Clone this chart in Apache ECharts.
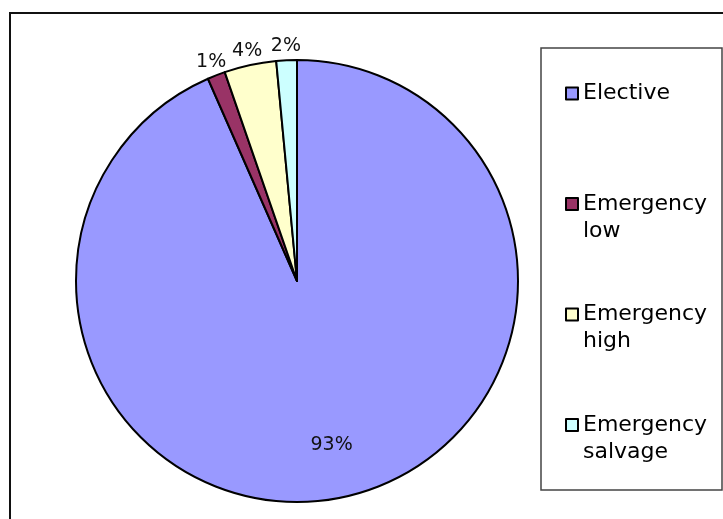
<!DOCTYPE html>
<html>
<head>
<meta charset="utf-8">
<style>
  html, body { margin: 0; padding: 0; background: #ffffff; }
  #chart { width: 723px; height: 519px; }
</style>
<script src="https://cdn.jsdelivr.net/npm/echarts@6/dist/echarts.min.js"></script>
</head>
<body>
<div id="chart"></div>
<script>
// Admission priority shares (percent of cases)
const categories = ['Elective', 'Emergency\nlow', 'Emergency\nhigh', 'Emergency\nsalvage'];
const shares = [93.4, 1.3, 3.8, 1.5];
const sliceColors = ['#9999FF', '#993366', '#FFFFCC', '#CCFFFF'];

const FONT = 'DejaVu Sans';
const CENTER = [297, 281];
const R = 221;
const BLANK = '\u00a0';

const sliceData = categories.map((name, i) => ({
  name: name,
  value: shares[i],
  itemStyle: { color: sliceColors[i] }
}));

const pctLabel = p => Math.round(p.percent) + '%';

// Transparent ring used only to place percentage labels along each slice's mid-angle
function labelRing(radius, showIdx) {
  return {
    type: 'pie',
    center: CENTER,
    radius: radius,
    startAngle: 90,
    clockwise: true,
    silent: true,
    avoidLabelOverlap: false,
    animation: false,
    itemStyle: { color: 'rgba(0,0,0,0)', borderWidth: 0 },
    labelLine: { show: false },
    emphasis: { disabled: true },
    data: categories.map((name, i) => ({
      name: name,
      value: shares[i],
      label: {
        show: showIdx.indexOf(i) >= 0,
        position: 'inside',
        formatter: pctLabel,
        fontFamily: FONT,
        fontSize: 19,
        color: '#111'
      }
    }))
  };
}

// Every legend row is three text lines tall; the name starts on the middle line,
// so the icon sits level with the first line of the name.
function legendText(name) {
  const lines = name.split('\n');
  while (lines.length < 2) lines.push(BLANK);
  return [BLANK].concat(lines).join('\n');
}

const chart = echarts.init(document.getElementById('chart'), null, { renderer: 'canvas' });
chart.setOption({
  backgroundColor: '#ffffff',
  animation: false,
  graphic: [
    {
      type: 'rect',
      shape: { x: 10, y: 13, width: 730, height: 530 },
      style: { fill: 'none', stroke: '#111', lineWidth: 2 },
      silent: true
    },
    {
      type: 'rect',
      shape: { x: 541, y: 48, width: 181, height: 442 },
      style: { fill: 'none', stroke: '#444', lineWidth: 1.5 },
      silent: true
    }
  ],
  legend: {
    orient: 'vertical',
    left: 565,
    top: 53,
    padding: 0,
    itemGap: 29.5,
    itemWidth: 12,
    itemHeight: 12,
    icon: 'rect',
    selectedMode: false,
    data: categories,
    formatter: legendText,
    textStyle: {
      fontFamily: FONT,
      fontSize: 22,
      lineHeight: 27,
      color: '#000'
    }
  },
  series: [
    {
      type: 'pie',
      center: CENTER,
      radius: [0, R],
      startAngle: 90,
      clockwise: true,
      avoidLabelOverlap: false,
      itemStyle: { borderColor: '#000', borderWidth: 2 },
      label: { show: false },
      labelLine: { show: false },
      emphasis: { disabled: true },
      data: sliceData
    },
    labelRing([110, 220], [0]),
    labelRing([222, 242], [1, 2, 3])
  ]
});
</script>
</body>
</html>
